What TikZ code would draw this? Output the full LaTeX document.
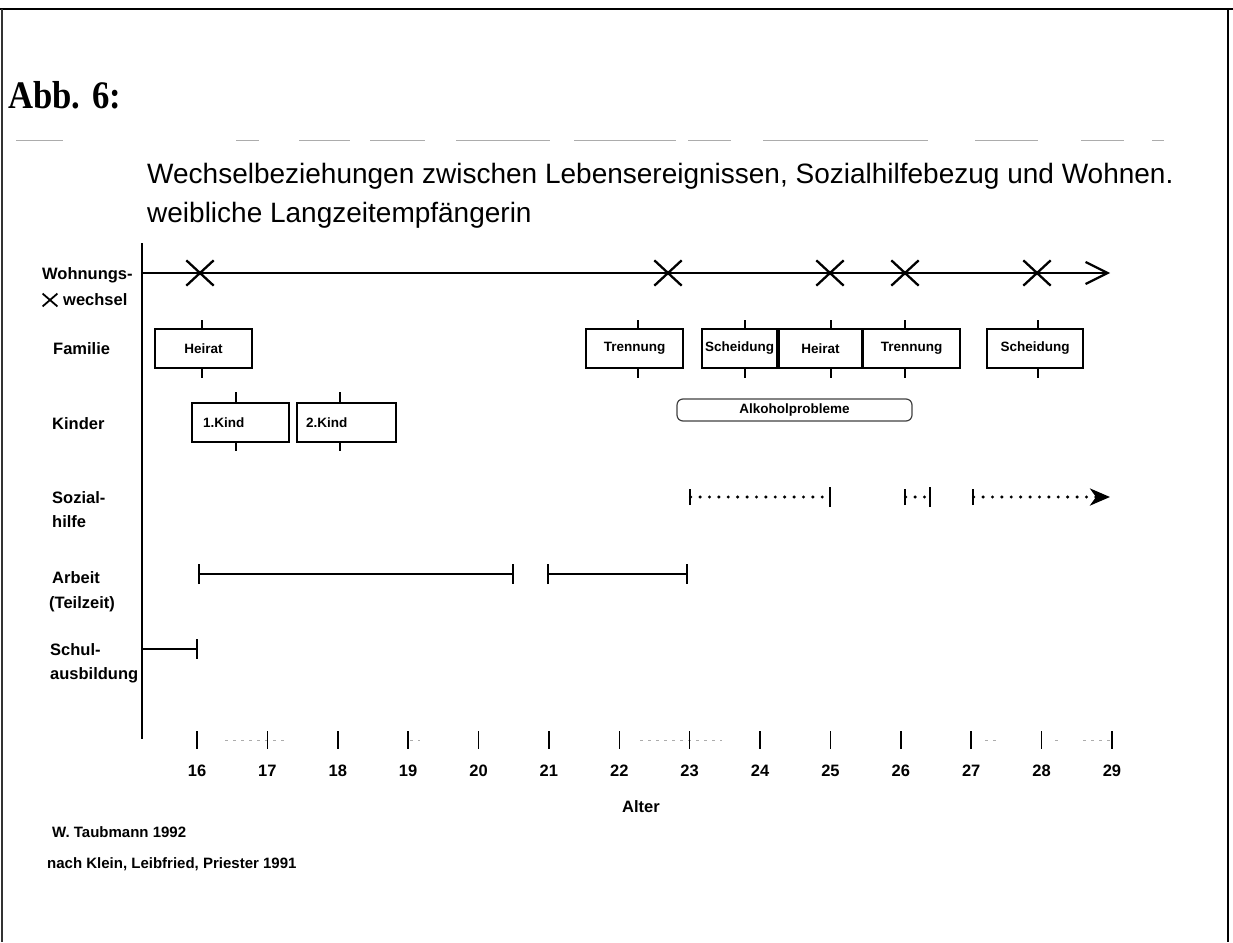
\documentclass[tikz,border=0pt]{standalone}
\usepackage{fontspec}
\setmainfont{Liberation Sans}
\newfontfamily\abbfont{Liberation Serif}
\usepackage{graphicx}
\usetikzlibrary{arrows.meta,shapes.misc}
\begin{document}
\begin{tikzpicture}[x=1pt,y=-1pt,
  lbl/.style={anchor=base west,inner sep=0pt,font=\fontsize{16.5}{20}\selectfont\bfseries},
  evbox/.style={draw,line width=2.2pt,minimum height=39pt,inner sep=0pt,font=\fontsize{13.5}{16}\selectfont\bfseries},
  tk/.style={line width=2pt},
  mv/.style={draw,cross out,line width=2.3pt,minimum width=25pt,minimum height=23pt,inner sep=0pt},
  spanline/.style={line width=2pt,{Bar[width=20pt,line width=2pt]}-{Bar[width=20pt,line width=2pt]}},
  sozdots/.style={line width=3.4pt,line cap=round,dash pattern=on 0pt off 9.4pt},
  axtick/.style={line width=1.5pt},
  labnum/.style={font=\fontsize{16.5}{20}\selectfont\bfseries,inner sep=0pt},
  faint/.style={gray!65,line width=1pt},
  foot/.style={anchor=base west,inner sep=0pt,font=\fontsize{15}{18}\selectfont\bfseries},
]
\useasboundingbox (0,0) rectangle (1233,942);

% frame
\coordinate (fr0) at (0,9);
\coordinate (fr1) at (1233,9);
\coordinate (fl0) at (2,9);
\coordinate (fl1) at (2,942);
\coordinate (frr0) at (1228,9);
\coordinate (frr1) at (1228,942);
\draw[line width=2.6pt] (fr0) -- (fr1);
\draw[line width=1.3pt,black!80] (fl0) -- (fl1);
\draw[line width=2.4pt] (frr0) -- (frr1);

% header
\node[anchor=base west,inner sep=0pt,font=\abbfont\bfseries\fontsize{39}{44}\selectfont] (abb) at (8,108) {\scalebox{0.89}[1]{Abb. 6:}};
\foreach \a/\b in {16/63,236/259,299/350,370/425,456/550,574/676,688/731,763/786,786/928,975/1038,1081/1124,1152/1164}
  {\draw[faint] (\a,140) -- (\b,140);}

% title
\node[anchor=base west,inner sep=0pt,font=\fontsize{28}{34}\selectfont] (title1) at (147,183) {Wechselbeziehungen zwischen Lebensereignissen, Sozialhilfebezug und Wohnen.};
\node[anchor=base west,inner sep=0pt,font=\fontsize{28}{34}\selectfont] (title2) at (147,222) {weibliche Langzeitempfängerin};

% row labels
\node[lbl] (lw1) at (42,279) {Wohnungs-};
\node[mv,minimum width=13pt,minimum height=11pt,line width=1.8pt] (lx) at (50,300) {};
\node[lbl] (lw2) at (63,305) {wechsel};
\node[lbl] (lf) at (53,354) {Familie};
\node[lbl] (lk) at (52,429) {Kinder};
\node[lbl] (ls1) at (52,503) {Sozial-};
\node[lbl] (ls2) at (52,527) {hilfe};
\node[lbl] (la1) at (52,583) {Arbeit};
\node[lbl] (la2) at (49,608) {(Teilzeit)};
\node[lbl] (lsc1) at (50,655) {Schul-};
\node[lbl] (lsc2) at (50,679) {ausbildung};

% vertical axis
\coordinate (ax0) at (142,243);
\coordinate (ax1) at (142,739);
\draw[line width=1.6pt] (ax0) -- (ax1);

% Wohnungswechsel
\coordinate (w0) at (142,273);
\coordinate (w1) at (1110,273);
\draw[line width=2pt,-{Straight Barb[length=22pt,width=22pt,line width=2.2pt]}] (w0) -- (w1);
\node[mv] (x1) at (200,273) {};
\node[mv] (x2) at (668,273) {};
\node[mv] (x3) at (830,273) {};
\node[mv] (x4) at (905,273) {};
\node[mv] (x5) at (1037,273) {};

% Familie
\node[evbox,minimum width=97pt] (f1) at (203.5,348.5) {Heirat};
\node[evbox,minimum width=97pt] (f2) at (634.5,348.5) {Trennung};
\node[evbox,minimum width=75pt] (f3) at (739.5,348.5) {Scheidung};
\node[evbox,minimum width=83pt] (f4) at (820.5,348.5) {Heirat};
\node[evbox,minimum width=97pt] (f5) at (911.5,348.5) {Trennung};
\node[evbox,minimum width=96pt] (f6) at (1035,348.5) {Scheidung};
\foreach \n/\s in {f1/-1.5,f2/3.5,f3/5.5,f4/10.5,f5/-6.5,f6/3}{
  \draw[tk] ([xshift=\s pt]\n.north) -- ++(0,-8);
  \draw[tk] ([xshift=\s pt]\n.south) -- ++(0,9);
}

% Kinder
\node[evbox,text width=75pt,inner xsep=11pt,align=left] (k1) at (240.5,422.5) {1.Kind};
\node[evbox,text width=81pt,inner xsep=9pt,align=left] (k2) at (346.5,422.5) {2.Kind};
\foreach \n/\s in {k1/-4.5,k2/-6.5}{
  \draw[tk] ([xshift=\s pt]\n.north) -- ++(0,-10);
  \draw[tk] ([xshift=\s pt]\n.south) -- ++(0,8);
}

% Alkoholprobleme
\node[draw=black!75,line width=1.2pt,rounded corners=6pt,minimum width=235pt,minimum height=22pt,inner sep=0pt,font=\fontsize{13.5}{16}\selectfont\bfseries] (alk) at (794.5,410) {Alkoholprobleme};

% Sozialhilfe
\coordinate (s1a) at (689,497);
\coordinate (s1b) at (831,497);
\coordinate (s2a) at (904,497);
\coordinate (s2b) at (931,497);
\coordinate (s3a) at (972,497);
\coordinate (s3b) at (1110,497);
\draw[sozdots,{Bar[width=16pt,line width=2.2pt]}-{Bar[width=20pt,line width=2.2pt]}] (s1a) -- (s1b);
\draw[sozdots,{Bar[width=16pt,line width=2.2pt]}-{Bar[width=20pt,line width=2.2pt]}] (s2a) -- (s2b);
\draw[sozdots,{Bar[width=16pt,line width=2.2pt]}-{Stealth[length=20pt,width=17pt,inset=6pt]}] (s3a) -- (s3b);

% Arbeit
\coordinate (a1a) at (198,574);
\coordinate (a1b) at (514,574);
\coordinate (a2a) at (547,574);
\coordinate (a2b) at (688,574);
\draw[spanline] (a1a) -- (a1b);
\draw[spanline] (a2a) -- (a2b);

% Schulausbildung
\coordinate (sc0) at (142,649);
\coordinate (sc1) at (198,649);
\draw[line width=2pt,-{Bar[width=20pt,line width=2pt]}] (sc0) -- (sc1);

% age axis
\foreach \a/\b in {225/285,410/420,640/722,985/1000,1055/1062,1083/1110}
  {\draw[faint,line width=0.8pt,dash pattern=on 3pt off 5pt] (\a,740) -- (\b,740);}
\foreach \a [evaluate=\a as \xx using {197+(\a-16)*70.38}] in {16,...,29}{
  \coordinate (t\a) at (\xx,740);
  \draw[axtick] (t\a) ++(0,-9) -- ++(0,18);
  \node[labnum] (n\a) at (\xx,771) {\a};
}
\node[labnum] (alter) at (641,807) {Alter};

% footnotes
\node[foot] (fn1) at (52,837) {W. Taubmann 1992};
\node[foot] (fn2) at (47,868) {nach Klein, Leibfried, Priester 1991};
\end{tikzpicture}
\end{document}
